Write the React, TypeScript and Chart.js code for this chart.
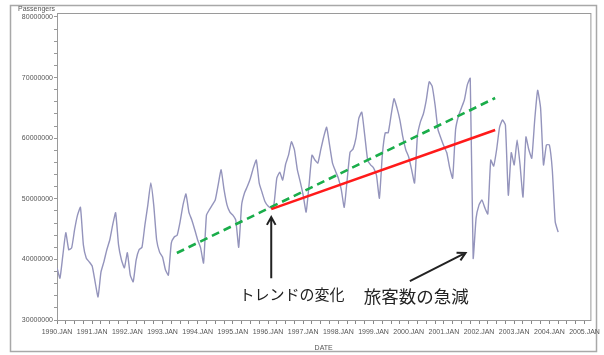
import React, { useEffect, useRef } from 'react';
import { Chart, registerables } from 'chart.js';

Chart.register(...registerables);

// Monthly passengers (millions), month index 0 = 1990.JAN
const PASSENGERS_M: number[] = [
  38.6, 36.9, 40.7, 44.4, 41.6, 41.9, 44.9, 47.3, 48.6, 42.4, 40.2, 39.6,
  38.9, 36.3, 33.8, 37.9, 39.6, 41.6, 43.2, 45.7, 47.7, 42.4, 39.9, 38.6,
  41.1, 37.4, 36.3, 39.9, 41.6, 42.0, 45.7, 49.0, 52.6, 49.0, 43.2, 41.2,
  40.4, 38.3, 37.4, 42.7, 43.7, 44.0, 46.2, 49.0, 50.8, 47.8, 46.5, 44.9,
  43.2, 41.9, 39.4, 47.3, 48.2, 49.0, 49.8, 52.3, 54.8, 51.5, 49.0, 47.8,
  47.3, 46.5, 42.0, 49.0, 51.0, 52.1, 53.4, 55.1, 56.4, 52.6, 51.0, 49.5,
  48.8, 48.5, 49.0, 53.4, 54.4, 53.1, 55.7, 57.2, 59.4, 58.1, 54.8, 52.8,
  50.6, 47.8, 52.3, 57.2, 56.4, 55.9, 58.1, 60.2, 61.8, 58.9, 55.9, 54.6,
  53.4, 51.5, 48.6, 53.1, 57.7, 58.2, 60.0, 63.3, 64.3, 60.5, 56.4, 55.6,
  55.1, 53.9, 50.1, 57.2, 60.9, 60.9, 63.8, 66.5, 65.0, 63.0, 60.2, 58.1,
  56.9, 54.8, 52.6, 60.5, 62.7, 64.0, 66.3, 69.3, 68.6, 65.5, 61.4, 60.0,
  58.7, 57.6, 55.1, 53.4, 61.4, 63.7, 65.0, 66.3, 68.8, 69.9, 40.2, 46.8,
  49.0, 49.8, 48.5, 47.5, 56.4, 55.4, 58.1, 61.8, 63.0, 62.2, 50.6, 57.6,
  55.6, 59.7, 55.6, 50.3, 60.2, 58.1, 56.7, 63.0, 67.9, 65.0, 55.6, 58.9,
  58.9, 54.8, 46.2, 44.5,
];

const YEAR_LABELS = [
  '1990.JAN', '1991.JAN', '1992.JAN', '1993.JAN', '1994.JAN', '1995.JAN',
  '1996.JAN', '1997.JAN', '1998.JAN', '1999.JAN', '2000.JAN', '2001.JAN',
  '2002.JAN', '2003.JAN', '2004.JAN', '2005.JAN',
];
const Y_MAJOR_M = [30, 40, 50, 60, 70, 80];

// trend lines (month index, millions)
const GREEN_TREND = [{ x: 40.9, y: 41.06 }, { x: 149.5, y: 66.63 }];
const RED_TREND = [{ x: 73.1, y: 48.3 }, { x: 149.5, y: 61.35 }];

// annotations (month index, millions)
const ARROW_TREND = { from: { x: 73.1, y: 36.9 }, to: { x: 73.1, y: 47.0 } };
const ARROW_DROP = { from: { x: 120.4, y: 36.4 }, to: { x: 139.4, y: 41.06 } };
const LABEL_TREND = { x: 80.2, y: 34.2, text: 'トレンドの変化' };
const LABEL_DROP = { x: 122.6, y: 33.9, text: '旅客数の急減' };

const X_MAX = 182;
const Y_MIN = 30;
const Y_MAX = 80.66;

const overlay = {
  id: 'overlay',
  beforeDraw(chart: any) {
    const ctx = chart.ctx;
    ctx.save();
    ctx.fillStyle = '#ffffff';
    ctx.fillRect(0, 0, chart.width, chart.height);
    ctx.strokeStyle = '#a8a8a8';
    ctx.lineWidth = 1.5;
    ctx.strokeRect(10.5, 5.5, 586, 346);
    ctx.restore();
  },
  beforeDatasetsDraw(chart: any) {
    const { ctx, chartArea: a } = chart;
    ctx.save();
    ctx.strokeStyle = '#9a9a9a';
    ctx.lineWidth = 1;
    ctx.strokeRect(a.left + 0.5, a.top + 0.5, a.right - a.left, a.bottom - a.top);
    ctx.restore();
  },
  afterDatasetsDraw(chart: any) {
    const { ctx, chartArea: a, scales } = chart;
    const px = (p: { x: number; y: number }) => [scales.x.getPixelForValue(p.x), scales.y.getPixelForValue(p.y)];
    const arrow = (ar: any) => {
      const [x1, y1] = px(ar.from);
      const [x2, y2] = px(ar.to);
      const ang = Math.atan2(y2 - y1, x2 - x1);
      const h = 9;
      ctx.save();
      ctx.strokeStyle = '#222';
      ctx.lineWidth = 2;
      ctx.beginPath();
      ctx.moveTo(x1, y1);
      ctx.lineTo(x2, y2);
      ctx.moveTo(x2 - h * Math.cos(ang - 0.5), y2 - h * Math.sin(ang - 0.5));
      ctx.lineTo(x2, y2);
      ctx.lineTo(x2 - h * Math.cos(ang + 0.5), y2 - h * Math.sin(ang + 0.5));
      ctx.stroke();
      ctx.restore();
    };
    arrow(ARROW_TREND);
    arrow(ARROW_DROP);
    ctx.save();
    ctx.fillStyle = '#222';
    ctx.textAlign = 'center';
    ctx.textBaseline = 'middle';
    ctx.font = '15px "Noto Sans CJK JP"';
    let [tx, ty] = px(LABEL_TREND);
    ctx.fillText(LABEL_TREND.text, tx, ty);
    ctx.font = '17.5px "Noto Sans CJK JP"';
    [tx, ty] = px(LABEL_DROP);
    ctx.fillText(LABEL_DROP.text, tx, ty);
    ctx.fillStyle = '#555';
    ctx.font = '7px "Liberation Sans"';
    ctx.textAlign = 'right';
    ctx.fillText('Passengers', a.left - 2, a.top - 4);
    ctx.restore();
  },
};

export default function App() {
  const ref = useRef<HTMLCanvasElement>(null);
  useEffect(() => {
    if (!ref.current) return;
    const series = PASSENGERS_M.map((v, i) => ({ x: i, y: v }));
    const chart = new Chart(ref.current, {
      type: 'line',
      data: {
        datasets: [
          { data: RED_TREND, borderColor: '#ff1a1a', borderWidth: 2.6, pointRadius: 0, order: 1 },
          { data: GREEN_TREND, borderColor: '#1aad4a', borderWidth: 2.6, borderDash: [8, 5], pointRadius: 0, order: 2 },
          { data: series, borderColor: '#9494bc', borderWidth: 1.4, pointRadius: 0, tension: 0.15, order: 3 },
        ],
      },
      options: {
        responsive: false,
        animation: false,
        devicePixelRatio: 1,
        layout: { padding: { left: 0, top: 13, right: 9, bottom: 0 } },
        plugins: { legend: { display: false }, tooltip: { enabled: false } },
        scales: {
          x: {
            type: 'linear',
            min: 0,
            max: X_MAX,
            afterBuildTicks: (s: any) => {
              const t: any[] = [];
              YEAR_LABELS.forEach((_, k) => {
                for (let q = 0; q < 12; q += 3) {
                  const v = k * 12 + q;
                  if (v <= 180) t.push({ value: v });
                }
              });
              s.ticks = t;
            },
            afterFit: (s: any) => { s.height = 35; },
            ticks: {
              autoSkip: false,
              maxRotation: 0,
              padding: 4,
              color: '#555',
              font: { size: 7, family: 'Liberation Sans' },
              callback: (v: any) => (Number(v) % 12 === 0 ? YEAR_LABELS[Number(v) / 12] : ''),
            },
            grid: { display: true, drawOnChartArea: false, drawTicks: true, tickLength: 4, color: '#888' },
            border: { display: true, color: '#666', width: 1 },
            title: { display: true, text: 'DATE', color: '#555', font: { size: 7, family: 'Liberation Sans' }, padding: { top: 3, bottom: 3 } },
          },
          y: {
            type: 'linear',
            min: Y_MIN,
            max: Y_MAX,
            afterBuildTicks: (s: any) => {
              const t: any[] = [];
              for (let v = Y_MAJOR_M[0]; v <= Y_MAJOR_M[Y_MAJOR_M.length - 1]; v += 2) t.push({ value: v });
              s.ticks = t;
            },
            afterFit: (s: any) => { s.width = 57; },
            ticks: {
              autoSkip: false,
              padding: 1,
              color: '#555',
              font: { size: 7, family: 'Liberation Sans' },
              callback: (v: any) => (Y_MAJOR_M.includes(Number(v)) ? String(Number(v) * 1000000) : ''),
            },
            grid: { display: true, drawOnChartArea: false, drawTicks: true, tickLength: 3, color: '#999' },
            border: { display: true, color: '#666', width: 1 },
          },
        },
      },
      plugins: [overlay],
    });
    return () => chart.destroy();
  }, []);
  return (
    <div style={{ position: 'fixed', left: 0, top: 0, width: 604, height: 355, background: '#fff' }}>
      <canvas ref={ref} width={604} height={355} />
    </div>
  );
}
